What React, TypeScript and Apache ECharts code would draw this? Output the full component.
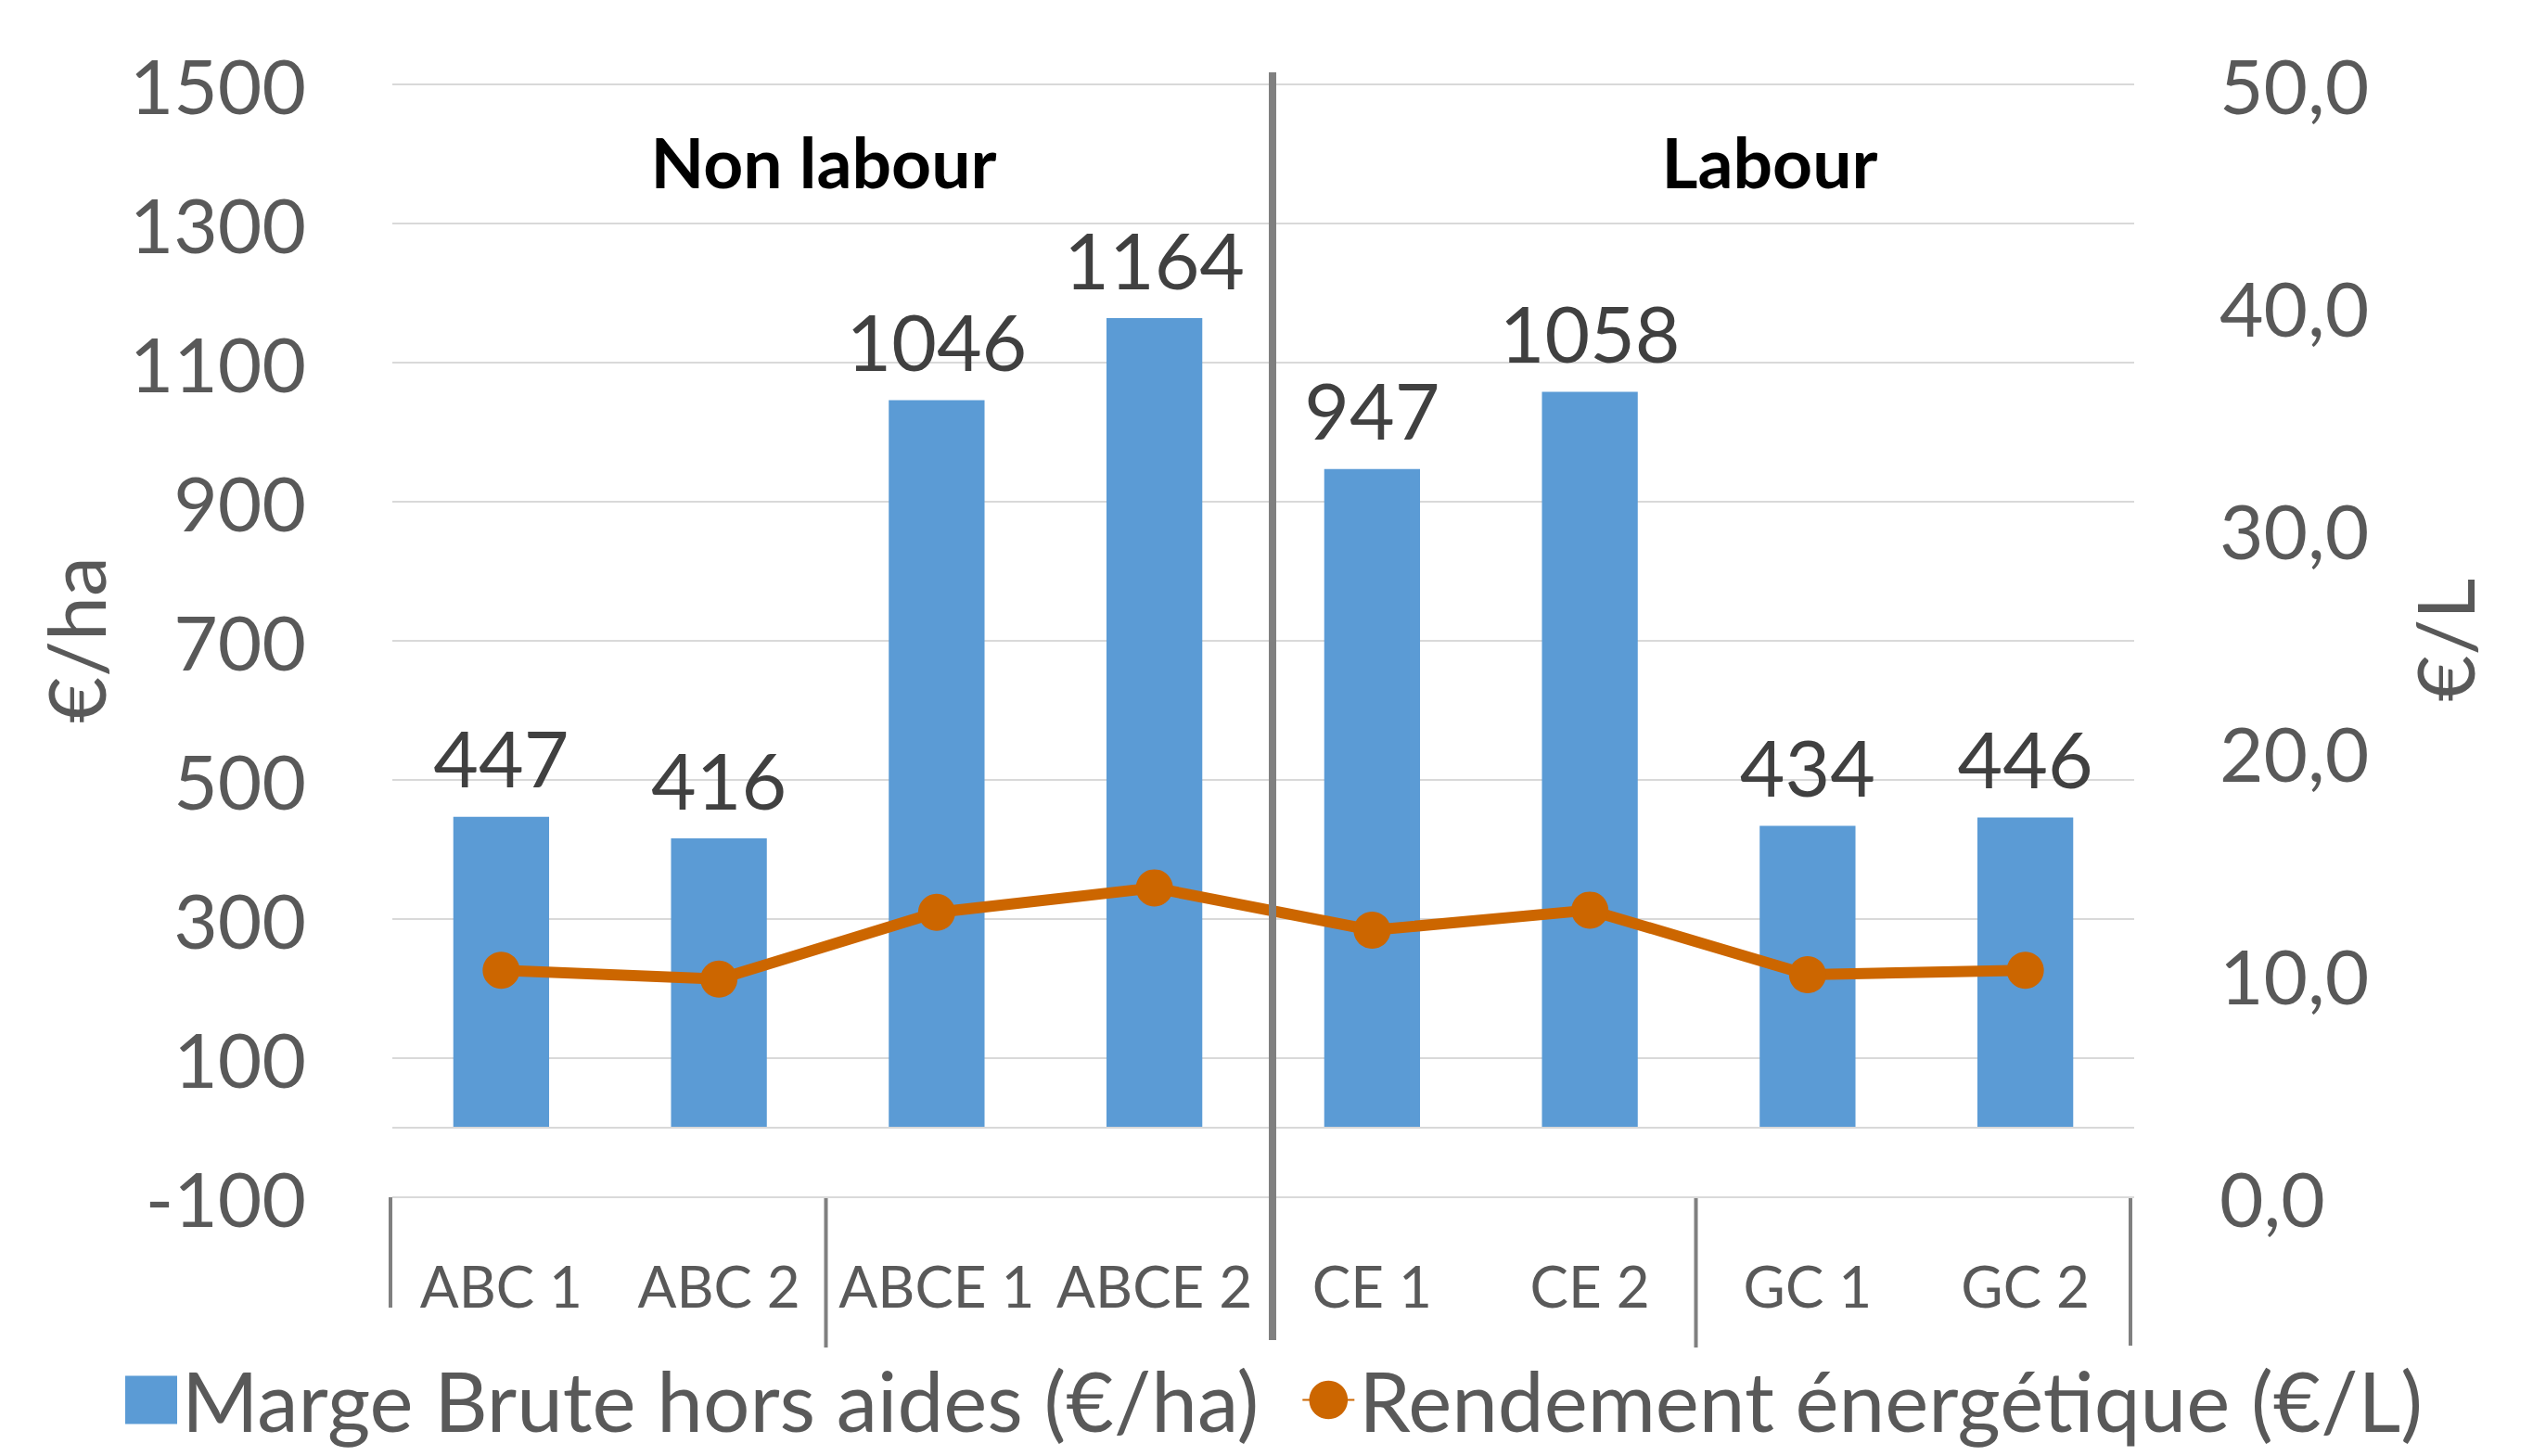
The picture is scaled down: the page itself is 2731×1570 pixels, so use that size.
import React, { useEffect, useRef } from "react";
import * as echarts from "echarts";

const categories = ["ABC 1", "ABC 2", "ABCE 1", "ABCE 2", "CE 1", "CE 2", "GC 1", "GC 2"];
const margeBrute = [447, 416, 1046, 1164, 947, 1058, 434, 446];
const rendement = [10.2, 9.8, 12.8, 13.9, 12.0, 12.9, 10.0, 10.2];
const groupTitles = ["Non labour", "Labour"];
const seriesNames = ["Marge Brute hors aides (€/ha)", "Rendement énergétique (€/L)"];
const axisTitles = ["€/ha", "€/L"];

const W = 2731;
const H = 1570;
const GRID_LEFT = 423;
const GRID_RIGHT_X = 2301;
const GRID_TOP = 91;
const GRID_BOTTOM_Y = 1291;
const FONT = "Lato, 'Open Sans', sans-serif";

export default function App() {
  const ref = useRef<HTMLDivElement>(null);
  useEffect(() => {
    if (!ref.current) return;
    const chart = echarts.init(ref.current, undefined, { renderer: "svg" });
    const catW = (GRID_RIGHT_X - GRID_LEFT) / categories.length;
    const sepX = (i: number) => GRID_LEFT + i * catW;
    const sepGray = "#808080";
    const option: any = {
      animation: false,
      backgroundColor: "#ffffff",
      textStyle: { fontFamily: FONT },
      grid: {
        left: GRID_LEFT,
        right: W - GRID_RIGHT_X,
        top: GRID_TOP,
        bottom: H - GRID_BOTTOM_Y,
        containLabel: false,
      },
      legend: {
        left: 130,
        top: 1460,
        itemWidth: 56,
        itemHeight: 52,
        itemGap: 46,
        textStyle: { fontSize: 89, color: "#595959", fontFamily: FONT },
        data: [
          { name: seriesNames[0], icon: "rect" },
          { name: seriesNames[1] },
        ],
      },
      xAxis: {
        type: "category",
        data: categories,
        boundaryGap: true,
        axisLine: { show: false, onZero: false },
        axisTick: { show: false },
        axisLabel: { fontSize: 62, color: "#595959", margin: 64, fontFamily: FONT, interval: 0 },
      },
      yAxis: [
        {
          type: "value",
          min: -100,
          max: 1500,
          interval: 200,
          axisLine: { show: false },
          axisTick: { show: false },
          axisLabel: {
            fontSize: 82,
            color: "#595959",
            margin: 93,
            fontFamily: FONT,
            formatter: (v: number) => String(v),
          },
          splitLine: { lineStyle: { color: "#D9D9D9", width: 2 } },
        },
        {
          type: "value",
          min: 0,
          max: 50,
          interval: 10,
          position: "right",
          axisLine: { show: false },
          axisTick: { show: false },
          splitLine: { show: false },
          axisLabel: {
            fontSize: 82,
            color: "#595959",
            margin: 92,
            fontFamily: FONT,
            formatter: (v: number) => v.toFixed(1).replace(".", ","),
          },
        },
      ],
      series: [
        {
          name: seriesNames[0],
          type: "bar",
          data: margeBrute,
          barWidth: "44%",
          itemStyle: { color: "#5B9BD5" },
          label: {
            show: true,
            position: "top",
            distance: 22,
            fontSize: 84,
            color: "#404040",
            fontFamily: FONT,
          },
          markLine: {
            silent: true,
            symbol: ["none", "none"],
            label: { show: false },
            lineStyle: { color: "#D9D9D9", width: 2, type: "solid" },
            data: [{ yAxis: 0 }],
          },
          z: 2,
        },
        {
          name: seriesNames[1],
          type: "line",
          yAxisIndex: 1,
          data: rendement,
          symbol: "circle",
          symbolSize: 40,
          lineStyle: { color: "#CC6600", width: 12 },
          itemStyle: { color: "#CC6600" },
          z: 5,
        },
      ],
      graphic: [
        {
          type: "text",
          x: 80,
          y: 690,
          rotation: Math.PI / 2,
          style: { text: axisTitles[0], fontSize: 86, fill: "#595959", fontFamily: FONT, align: "center", verticalAlign: "middle" },
        },
        {
          type: "text",
          x: 2634,
          y: 690,
          rotation: Math.PI / 2,
          style: { text: axisTitles[1], fontSize: 86, fill: "#595959", fontFamily: FONT, align: "center", verticalAlign: "middle" },
        },
        {
          type: "text",
          x: 888,
          y: 174,
          style: { text: groupTitles[0], fontSize: 75, fontWeight: "bold", fill: "#000000", fontFamily: FONT, align: "center", verticalAlign: "middle" },
        },
        {
          type: "text",
          x: 1908,
          y: 174,
          style: { text: groupTitles[1], fontSize: 75, fontWeight: "bold", fill: "#000000", fontFamily: FONT, align: "center", verticalAlign: "middle" },
        },
        {
          type: "line",
          shape: { x1: sepX(4) + 10, y1: 78, x2: sepX(4) + 10, y2: 1445 },
          style: { stroke: sepGray, lineWidth: 8 },
          z: 10,
        },
        {
          type: "line",
          shape: { x1: sepX(0) - 2, y1: GRID_BOTTOM_Y, x2: sepX(0) - 2, y2: 1410 },
          style: { stroke: sepGray, lineWidth: 4 },
        },
        {
          type: "line",
          shape: { x1: sepX(2) - 2, y1: GRID_BOTTOM_Y, x2: sepX(2) - 2, y2: 1453 },
          style: { stroke: sepGray, lineWidth: 4 },
        },
        {
          type: "line",
          shape: { x1: sepX(6) - 3, y1: GRID_BOTTOM_Y, x2: sepX(6) - 3, y2: 1453 },
          style: { stroke: sepGray, lineWidth: 4 },
        },
        {
          type: "line",
          shape: { x1: sepX(8) - 4, y1: GRID_BOTTOM_Y, x2: sepX(8) - 4, y2: 1451 },
          style: { stroke: sepGray, lineWidth: 4 },
        },
      ],
    };
    chart.setOption(option);
    return () => chart.dispose();
  }, []);
  return (
    <div
      ref={ref}
      style={{ position: "fixed", left: 0, top: 0, width: W, height: H, background: "#fff" }}
    />
  );
}
